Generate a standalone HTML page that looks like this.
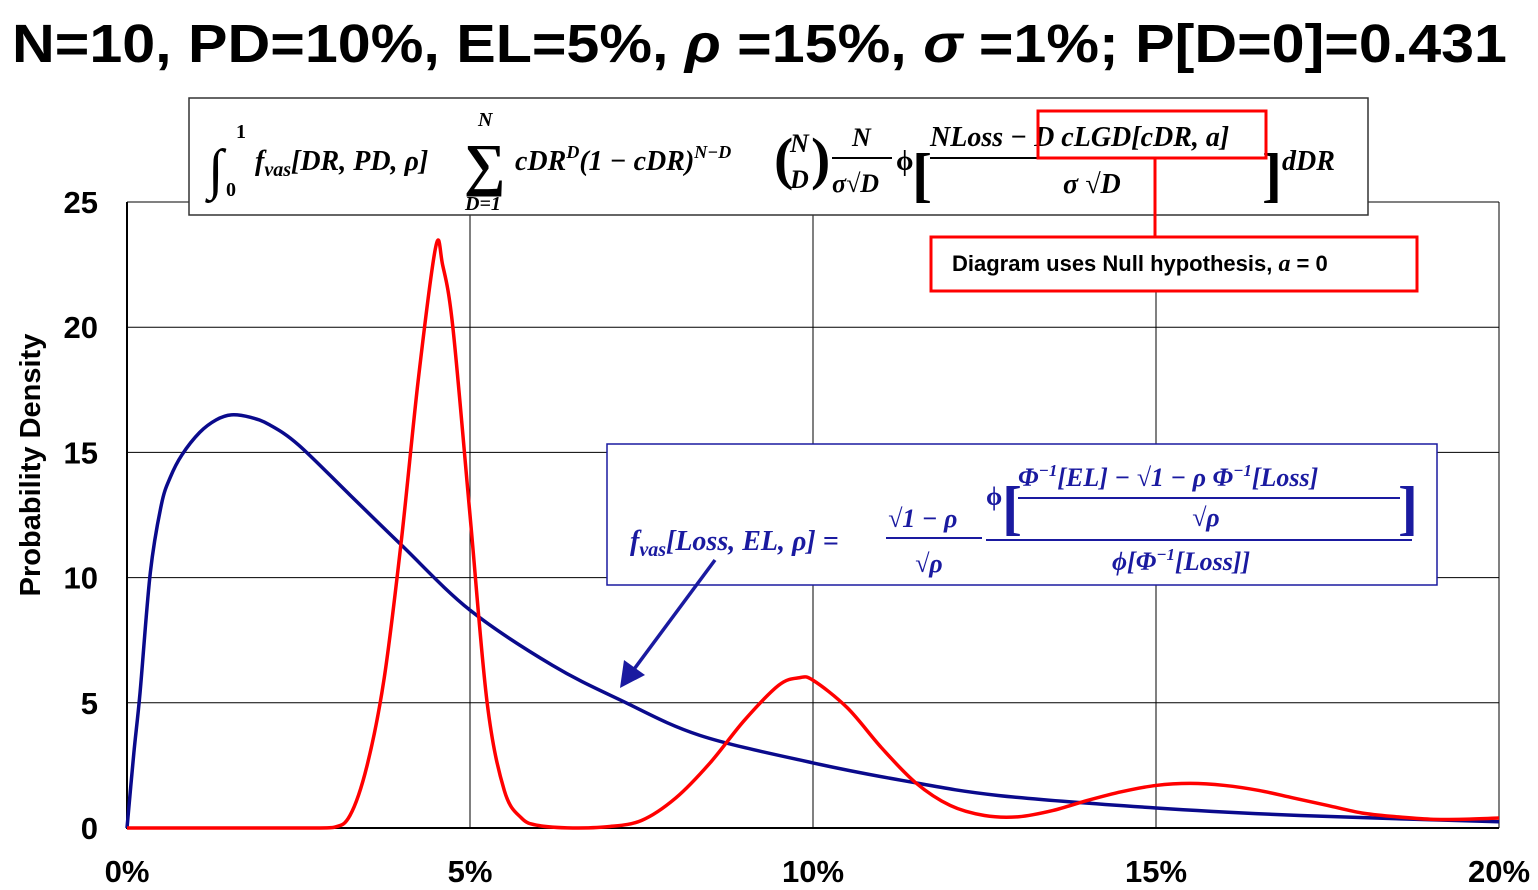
<!DOCTYPE html>
<html><head><meta charset="utf-8"><style>
html,body{margin:0;padding:0;background:#fff;}
svg{display:block;}
.m{font-family:"Liberation Serif",serif;font-weight:bold;font-style:italic;}
.u{font-family:"Liberation Serif",serif;font-weight:bold;}
.s{font-family:"Liberation Sans",sans-serif;font-weight:bold;}
</style></head><body>
<svg id="c" width="1538" height="890" viewBox="0 0 1538 890" xmlns="http://www.w3.org/2000/svg">
<rect width="1538" height="890" fill="#fff"/>
<text class="s" x="12" y="62" font-size="54" textLength="1495" lengthAdjust="spacingAndGlyphs">N=10, PD=10%, EL=5%, <tspan font-style="italic">ρ</tspan> =15%, <tspan font-style="italic">σ</tspan> =1%; P[D=0]=0.431</text>
<g id="grid"></g>
<g id="axes"></g>
<path id="blue" fill="none" stroke="#0a0a8c" stroke-width="3.5"/>
<path id="red" fill="none" stroke="#ff0000" stroke-width="3.5"/>
<text class="s" x="40" y="465" font-size="29" text-anchor="middle" transform="rotate(-90 40 465)">Probability Density</text>

<g>
<rect x="189" y="98" width="1179" height="117" fill="#fff" stroke="#333" stroke-width="1.5"/>
<text class="u" x="208" y="188" font-size="56" font-weight="normal">∫</text>
<text class="u" x="236" y="138" font-size="20">1</text>
<text class="u" x="226" y="196" font-size="20">0</text>
<text class="m" x="255" y="170" font-size="28">f<tspan font-size="20" dy="6">vas</tspan><tspan dy="-6">[DR, PD, ρ]</tspan></text>
<text class="u" x="464" y="184" font-size="58" font-weight="normal">∑</text>
<text class="m" x="478" y="126" font-size="20">N</text>
<text class="m" x="465" y="210" font-size="20">D=1</text>
<text class="m" x="515" y="170" font-size="28">cDR<tspan font-size="18" dy="-12">D</tspan><tspan dy="12">(1 − cDR)</tspan><tspan font-size="18" dy="-12">N−D</tspan></text>
<text class="m" x="790" y="152" font-size="26">N</text>
<text class="m" x="790" y="188" font-size="26">D</text>
<text class="u" x="774" y="178" font-size="58" font-weight="normal">(</text>
<text class="u" x="811" y="178" font-size="58" font-weight="normal">)</text>
<text class="m" x="852" y="146" font-size="26">N</text>
<line x1="832" y1="158" x2="892" y2="158" stroke="#000" stroke-width="2"/>
<text class="m" x="832" y="192" font-size="26">σ√D</text>
<text class="u" x="896" y="170" font-size="28">ϕ</text>
<text class="u" x="912" y="195" font-size="60" font-weight="normal">[</text>
<text class="m" x="930" y="146" font-size="28">NLoss − D cLGD[cDR, a]</text>
<line x1="930" y1="158" x2="1262" y2="158" stroke="#000" stroke-width="2"/>
<text class="m" x="1063" y="193" font-size="28">σ √D</text>
<text class="u" x="1262" y="195" font-size="60" font-weight="normal">]</text>
<text class="m" x="1282" y="170" font-size="28">dDR</text>
<rect x="1038" y="111" width="228" height="47" fill="none" stroke="#ff0000" stroke-width="3"/>
</g>
<line x1="1155" y1="158" x2="1155" y2="237" stroke="#ff0000" stroke-width="3"/>
<g>
<rect x="931" y="237" width="486" height="54" fill="#fff" stroke="#ff0000" stroke-width="3"/>
<text class="s" x="952" y="271" font-size="22">Diagram uses Null hypothesis, <tspan class="m" font-size="24">a</tspan> = 0</text>
</g>

<g fill="#1a1aa0">
<rect x="607" y="444" width="830" height="141" fill="#fff" stroke="#1a1aa0" stroke-width="1.5"/>
<text class="m" x="630" y="550" font-size="28">f<tspan font-size="20" dy="6">vas</tspan><tspan dy="-6">[Loss, EL, ρ] =</tspan></text>
<text class="m" x="888" y="527" font-size="26">√1 − ρ</text>
<line x1="886" y1="538" x2="982" y2="538" stroke="#1a1aa0" stroke-width="2"/>
<text class="m" x="915" y="572" font-size="26">√ρ</text>
<text class="u" x="986" y="505" font-size="26">ϕ</text>
<text class="u" x="1002" y="528" font-size="60" font-weight="normal">[</text>
<text class="m" x="1018" y="486" font-size="26">Φ<tspan font-size="17" dy="-10">−1</tspan><tspan dy="10">[EL] − √1 − ρ Φ</tspan><tspan font-size="17" dy="-10">−1</tspan><tspan dy="10">[Loss]</tspan></text>
<line x1="1018" y1="498" x2="1400" y2="498" stroke="#1a1aa0" stroke-width="2"/>
<text class="m" x="1192" y="526" font-size="26">√ρ</text>
<text class="u" x="1398" y="528" font-size="60" font-weight="normal">]</text>
<line x1="986" y1="540" x2="1412" y2="540" stroke="#1a1aa0" stroke-width="2"/>
<text class="m" x="1112" y="570" font-size="26">ϕ[Φ<tspan font-size="17" dy="-10">−1</tspan><tspan dy="10">[Loss]]</tspan></text>
</g>
<g>
<line x1="715" y1="560" x2="632" y2="672" stroke="#1a1aa0" stroke-width="3.5"/>
<polygon points="620,688 624,660 645,675" fill="#1a1aa0"/>
</g>
</svg>
<script>
const xTicks=[0,5,10,15,20];
const xTickLabels=["0%","5%","10%","15%","20%"];
const yTicks=[0,5,10,15,20,25];
const blueX=[0,0.1,0.19,0.34,0.5,0.63,0.8,1.06,1.3,1.52,1.8,2.08,2.5,3.25,4,5,6.2,7.2,8.35,10,11.3,12.7,15,17.1,20];
const blueY=[0,3.0,5.4,10.2,12.9,14.0,14.9,15.8,16.3,16.5,16.4,16.1,15.3,13.3,11.3,8.7,6.5,5.1,3.7,2.6,1.9,1.3,0.8,0.5,0.25];
const redX=[0,2.5,3,3.25,3.5,3.75,4,4.25,4.5,4.6,4.75,5,5.25,5.5,5.75,6,6.5,7,7.5,8,8.5,9,9.5,9.8,10,10.5,11,11.5,12,12.5,13,13.5,14,14.5,15,15.5,16,16.5,17,17.5,18,18.5,19,19.5,20];
const redY=[0,0,0.02,0.5,2.5,6,11.5,18,23.2,22.5,20,12.5,5,1.5,0.4,0.1,0,0.05,0.3,1.2,2.6,4.3,5.7,6.0,5.9,4.8,3.2,1.8,0.9,0.5,0.45,0.7,1.1,1.45,1.7,1.78,1.7,1.5,1.2,0.9,0.6,0.45,0.35,0.35,0.4];
const X0=127,X1=1499,Y0=828,Y1=202;
const sx=v=>X0+(X1-X0)*v/20, sy=v=>Y0-(Y0-Y1)*v/25;
const NS="http://www.w3.org/2000/svg";
const grid=document.getElementById('grid'), axes=document.getElementById('axes');
function mk(t,a,p){const e=document.createElementNS(NS,t);for(const k in a)e.setAttribute(k,a[k]);p.appendChild(e);return e;}
yTicks.forEach(v=>{
  if(v>0){const l=mk('line',{x1:X0,x2:X1,y1:sy(v),y2:sy(v),stroke:'#000','stroke-width':1},grid);
  
  }
  const t=mk('text',{x:98,y:sy(v)+11,'font-size':31,'text-anchor':'end','class':'s'},axes);t.textContent=v;
  
  
});
xTicks.forEach((v,i)=>{
  if(v>0){const l=mk('line',{x1:sx(v),x2:sx(v),y1:Y1,y2:Y0,stroke:'#000','stroke-width':1},grid);
  
  }
  const t=mk('text',{x:sx(v),y:882,'font-size':31,'text-anchor':'middle','class':'s'},axes);t.textContent=xTickLabels[i];
  
  
});
const ax=mk('path',{d:'M'+X0+' '+Y1+'V'+Y0+'H'+X1,fill:'none',stroke:'#000','stroke-width':2},axes);


function curve(xs,ys){
  const p=xs.map((x,i)=>[sx(x),sy(ys[i])]);let d='M'+p[0][0]+' '+p[0][1];
  for(let i=0;i<p.length-1;i++){const a=p[Math.max(i-1,0)],b=p[i],c=p[i+1],e=p[Math.min(i+2,p.length-1)];
    const c1=[b[0]+(c[0]-a[0])/6,b[1]+(c[1]-a[1])/6],c2=[c[0]-(e[0]-b[0])/6,c[1]-(e[1]-b[1])/6];
    c1[1]=Math.min(c1[1],Y0);c2[1]=Math.min(c2[1],Y0);
    d+='C'+c1[0]+' '+c1[1]+' '+c2[0]+' '+c2[1]+' '+c[0]+' '+c[1];}
  return d;}
document.getElementById('blue').setAttribute('d',curve(blueX,blueY));
document.getElementById('red').setAttribute('d',curve(redX,redY));
</script>
</body></html>
